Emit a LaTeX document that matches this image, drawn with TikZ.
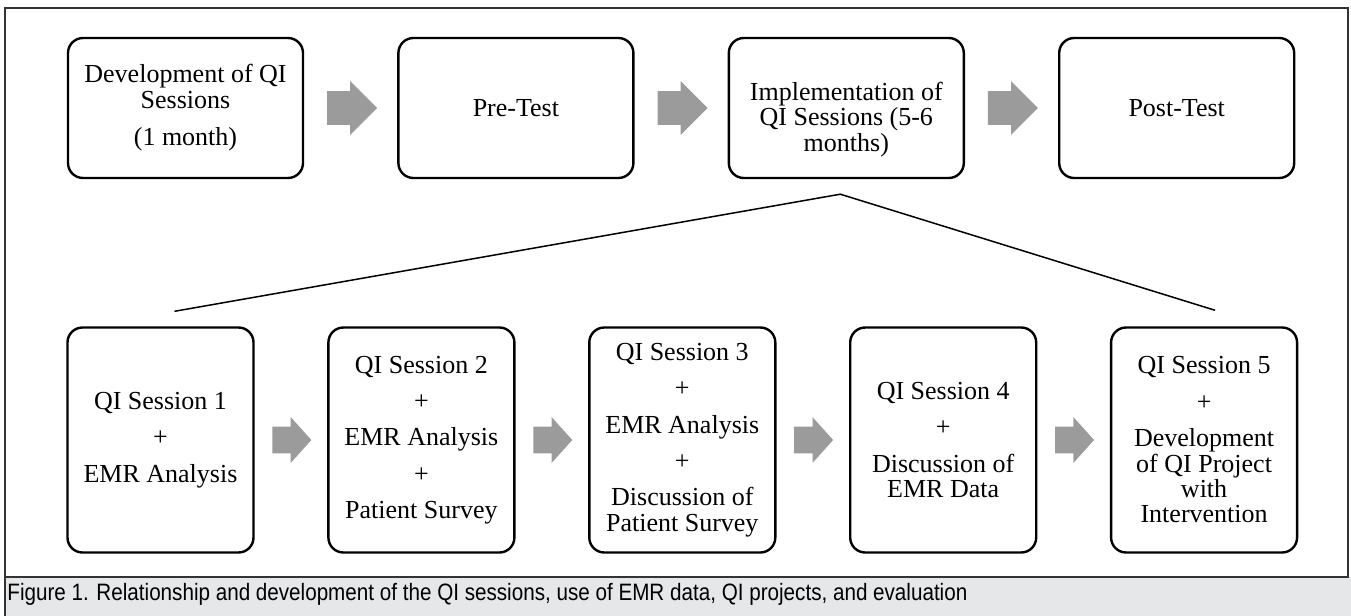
\documentclass[tikz,border=0pt]{standalone}
\usepackage{graphicx}
\usepackage{fontspec}
\setmainfont{Liberation Serif}
\newfontfamily\capfont{Liberation Sans}
\usetikzlibrary{positioning,calc,shapes.arrows}
\definecolor{framegray}{RGB}{51,51,51}
\definecolor{arrowgray}{RGB}{155,155,155}
\definecolor{capgray}{RGB}{230,231,232}

\begin{document}
\begin{tikzpicture}[
    x=0.5pt, y=-0.5pt,
    font=\fontsize{13pt}{12.7pt}\selectfont,
    stage/.style={draw, line width=1.2pt, rounded corners=7.5pt, align=center, inner sep=2pt},
    topbox/.style={stage, minimum width=117.5pt, minimum height=70pt},
    sessbox/.style={stage, minimum width=93pt, minimum height=112.5pt},
    blockarrow/.style={single arrow, draw=none, fill=arrowgray, inner sep=0pt, text depth=0pt, anchor=tail, single arrow tip angle=90},
    bigarrow/.style={blockarrow, text height=16.5pt, minimum height=25pt, single arrow head extend=5pt},
    smallarrow/.style={blockarrow, text height=13pt, minimum height=19.5pt, single arrow head extend=4.75pt, single arrow tip angle=96},
    fan/.style={line width=0.75pt},
  ]
  \useasboundingbox (0,0) rectangle (1351,616);
  % frame and caption bar
  \fill[capgray] (5,577) rectangle (1351,616);
  \draw[framegray, line width=1pt] (5,8) rectangle (1348,577);
  \draw[framegray, line width=1pt] (5,577) -- (5,616);

  % top row
  \node[topbox] (dev) at (185.5,108) {Development of QI\\Sessions\\[6pt](1 month)};
  \node[topbox, right=46.5pt of dev] (pre) {Pre-Test};
  \node[topbox, right=46.5pt of pre] (impl) {\mbox{}\\[8pt]Implementation of\\QI Sessions (5-6\\months)};
  \node[topbox, right=46.5pt of impl] (post) {Post-Test};

  % session row
  \node[sessbox] (s1) at (160.5,440) {QI Session 1\\[5.5pt]+\\[5.5pt]EMR Analysis};
  \node[sessbox, right=36.25pt of s1] (s2) {QI Session 2\\[5.5pt]+\\[5.5pt]EMR Analysis\\[5.5pt]+\\[5.5pt]Patient Survey};
  \node[sessbox, right=36.25pt of s2] (s3) {QI Session 3\\[5.5pt]+\\[5.5pt]EMR Analysis\\[5.5pt]+\\[5.5pt]Discussion of\\Patient Survey};
  \node[sessbox, right=36.25pt of s3] (s4) {QI Session 4\\[5.5pt]+\\[5.5pt]Discussion of\\EMR Data};
  \node[sessbox, right=36.25pt of s4] (s5) {QI Session 5\\[5.5pt]+\\[5.5pt]Development\\of QI Project\\with\\Intervention};

  % block arrows
  \foreach \a/\b in {dev/pre, pre/impl, impl/post}
    \node[bigarrow] at ($(\a.east)!0.5!(\b.west)+(-24,0)$) {};
  \foreach \a/\b in {s1/s2, s2/s3, s3/s4, s4/s5}
    \node[smallarrow] at ($(\a.east)!0.5!(\b.west)+(-19,0)$) {};

  % fan from implementation to sessions
  \coordinate (apex) at ($(impl.south)+(-6,15)$);
  \coordinate (fanL) at ($(s1.north)+(14,-15)$);
  \coordinate (fanR) at ($(s5.north)+(11,-16)$);
  \draw[fan] (fanL) -- (apex) -- (fanR);

  % caption
  \node[anchor=base west, inner sep=0pt, font=\capfont\fontsize{11.85pt}{14pt}\selectfont] (cap) at (7,600)
    {\resizebox{480pt}{\height}{Figure 1. Relationship and development of the QI sessions, use of EMR data, QI projects, and evaluation}};
\end{tikzpicture}
\end{document}
